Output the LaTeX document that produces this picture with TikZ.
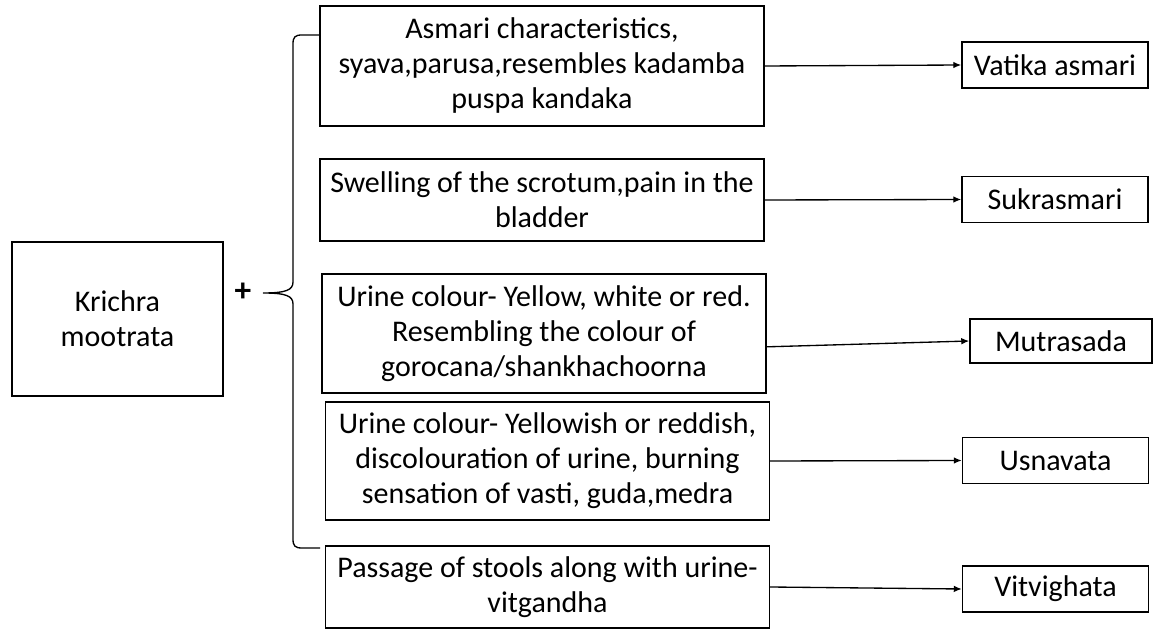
\documentclass[tikz,border=0pt]{standalone}
\usepackage{fontspec}
\setmainfont{Carlito}
\usetikzlibrary{arrows.meta}
\begin{document}
\begin{tikzpicture}[x=0.75pt, y=-0.75pt, line width=1.1pt, font=\fontsize{22.5}{26.25}\selectfont,
  box/.style={draw, rectangle, align=center, inner sep=0pt},
  sign/.style={minimum width=333pt},
  result/.style={box, minimum width=139.5pt, minimum height=34.5pt},
  arr/.style={-{Latex[length=6pt,width=5pt]}, line width=1pt}]
  \useasboundingbox (0,0) rectangle (1154,630);
  \node[box, minimum width=158.25pt, minimum height=115.5pt] (krichra) at (117.5,319) {Krichra\\mootrata};
  \node[font=\fontsize{25}{25}\bfseries\selectfont] (plus) at (243,292) {+};
  % signs
  \node[box, sign, minimum height=90pt] (asmari) at (542,66) {Asmari characteristics,\\syava,parusa,resembles kadamba\\puspa kandaka};
  \node[box, sign, minimum height=61.5pt] (swelling) at (542,200) {Swelling of the scrotum,pain in the\\bladder};
  \node[box, sign, minimum height=89.25pt] (yellow) at (544,333.5) {Urine colour- Yellow, white or red.\\Resembling the colour of\\gorocana/shankhachoorna};
  \node[box, sign, minimum height=88.5pt] (reddish) at (547.5,461) {Urine colour- Yellowish or reddish,\\discolouration of urine, burning\\sensation of vasti, guda,medra};
  \node[box, sign, minimum height=61.5pt] (stools) at (547.5,587) {Passage of stools along with urine-\\vitgandha};
  % results
  \node[result] (vatika) at (1055,65) {Vatika asmari};
  \node[result] (sukra) at (1055,199.5) {Sukrasmari};
  \node[result, minimum width=136.5pt, minimum height=33pt] (mutra) at (1061,341) {Mutrasada};
  \node[result] (usna) at (1055.5,460.5) {Usnavata};
  \node[result] (vitvi) at (1055.5,589) {Vitvighata};
  % brace
  \coordinate (btop) at (320,35);
  \coordinate (bbot) at (320,548);
  \coordinate (btip) at (263,293);
  \draw[line width=1pt] (btop) -- (302,35) .. controls (295,35) and (293,37) .. (293,44)
    -- (293,282) .. controls (293,290) and (286,293) .. (btip)
    (btip) .. controls (286,293) and (293,296) .. (293,304)
    -- (293,539) .. controls (293,546) and (295,548) .. (302,548) -- (bbot);
  \draw[arr] (asmari.east) -- (vatika.west);
  \draw[arr] (swelling.east) -- (sukra.west);
  \draw[arr] ([yshift=-10pt]yellow.east) -- (mutra.west);
  \draw[arr] (reddish.east) -- (usna.west);
  \draw[arr] (stools.east) -- (vitvi.west);
\end{tikzpicture}
\end{document}
